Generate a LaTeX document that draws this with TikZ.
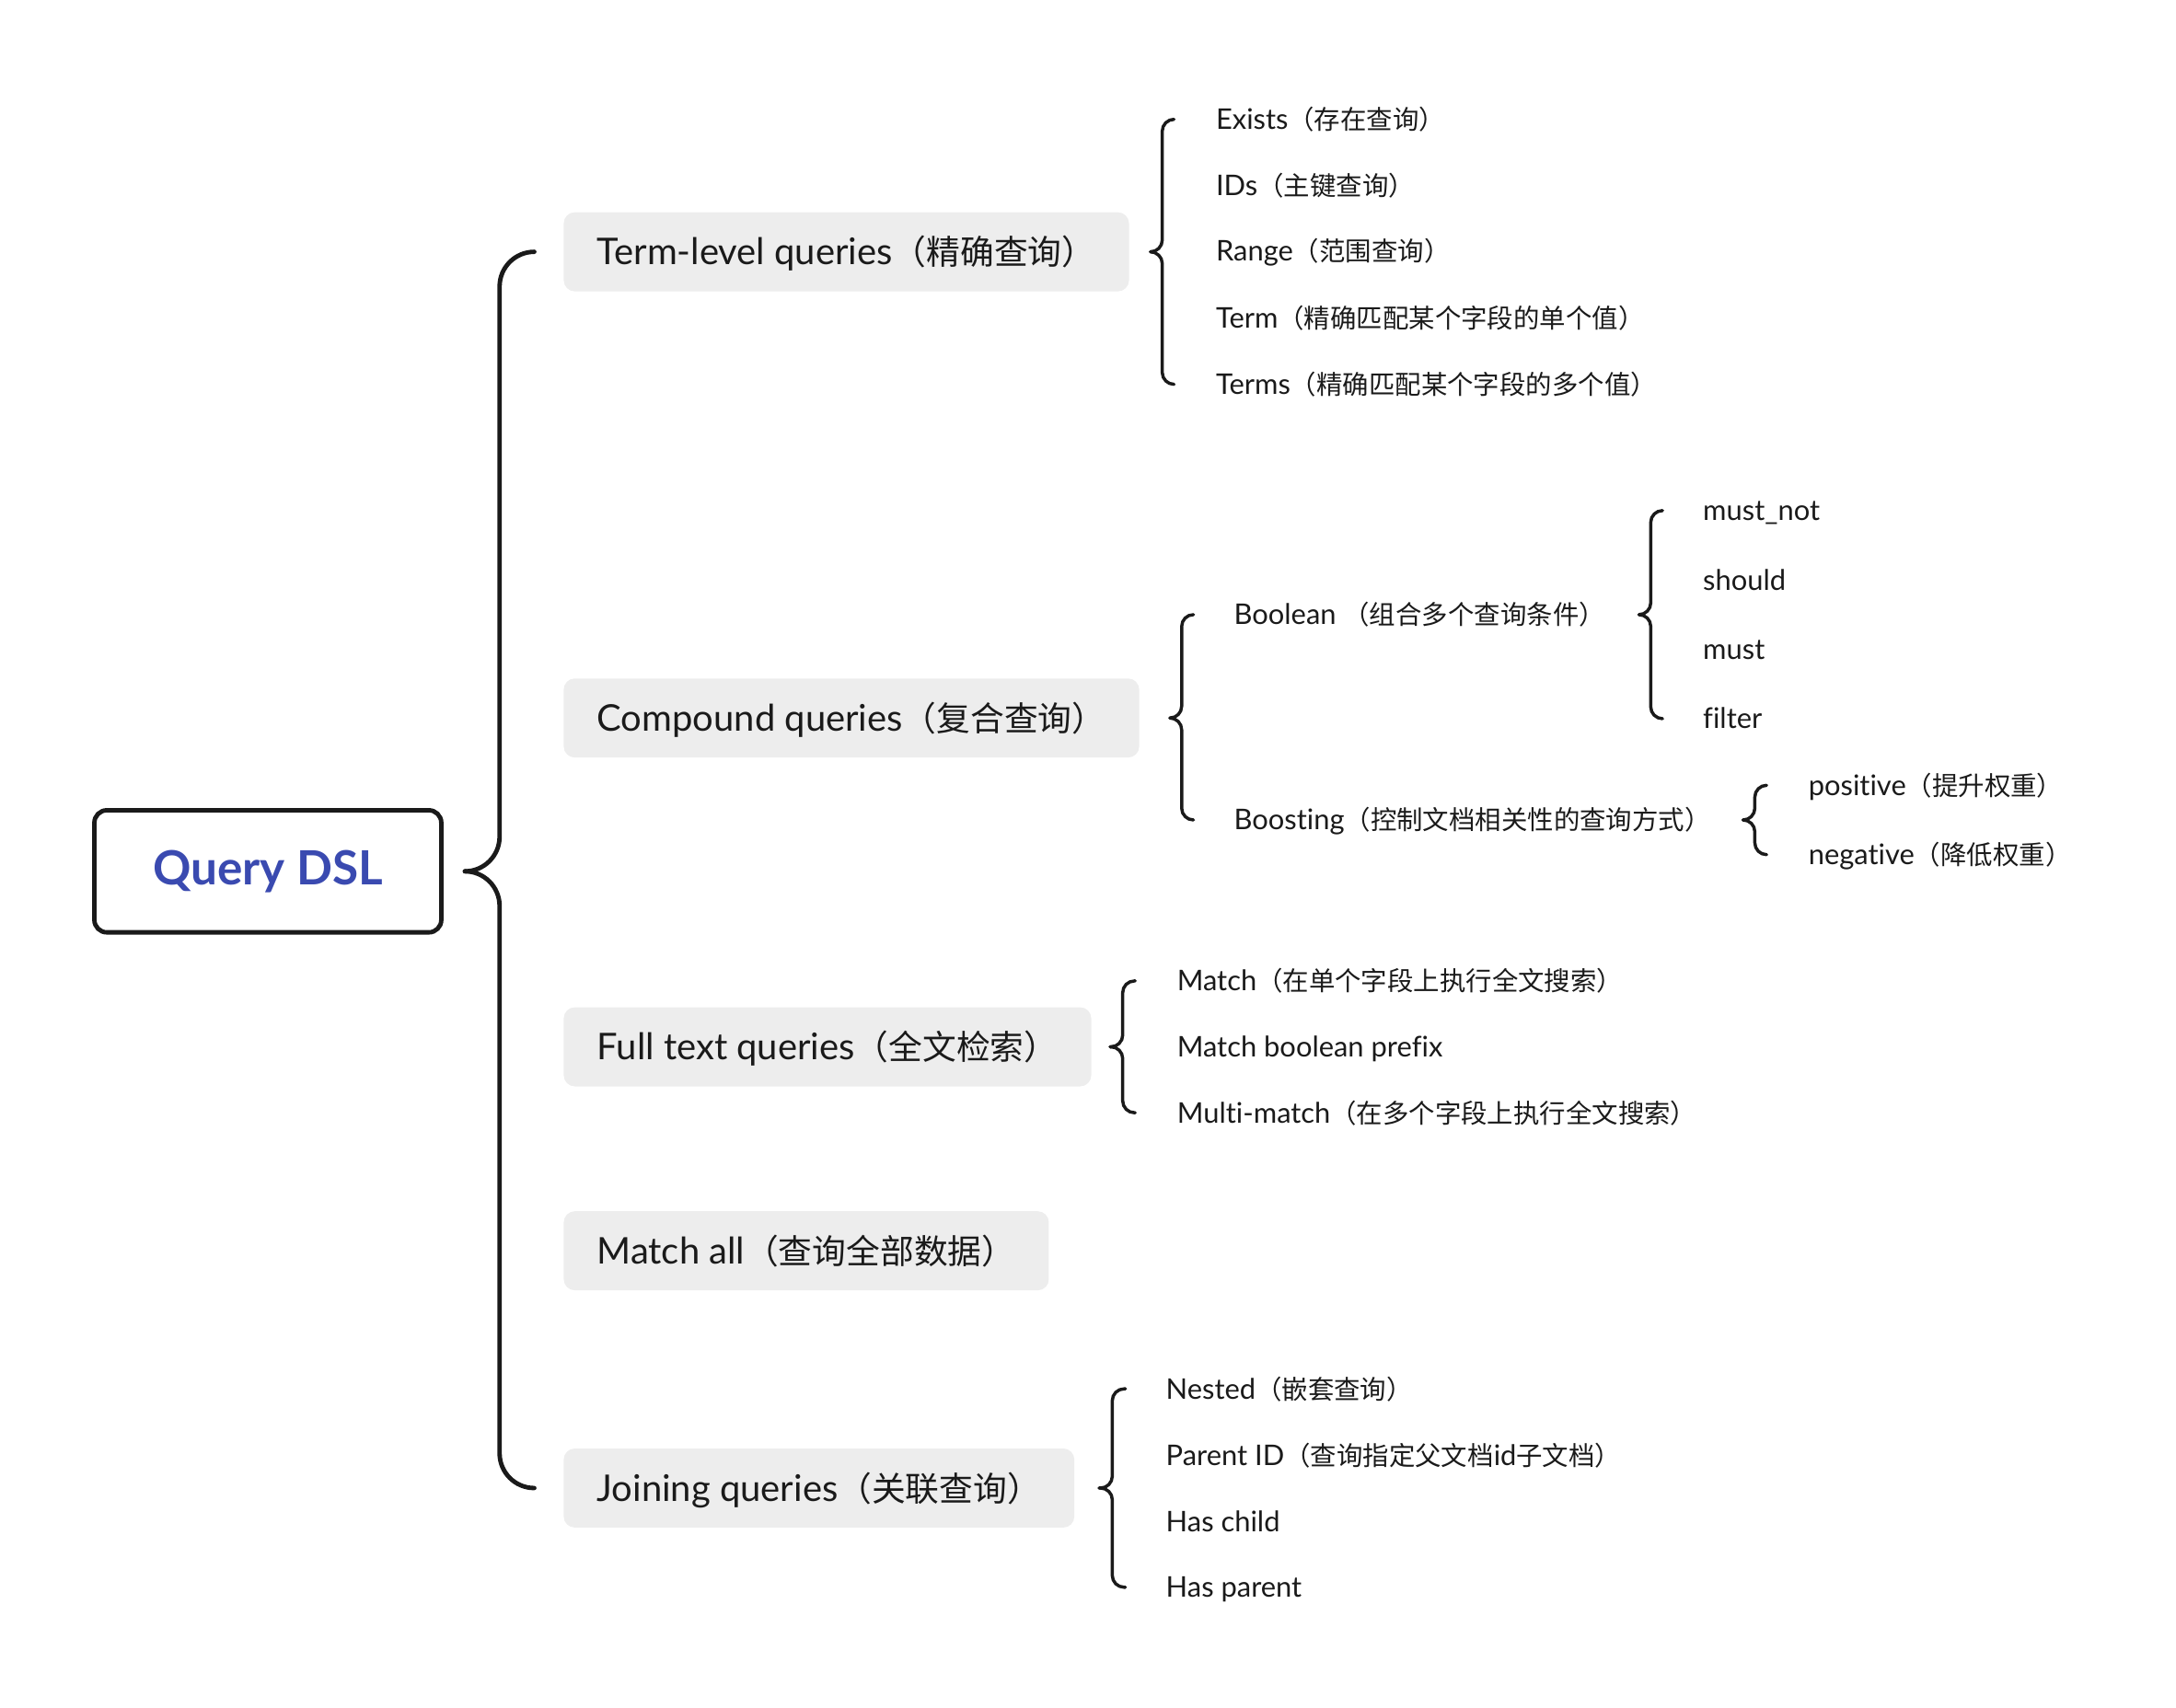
\documentclass[tikz,border=0pt]{standalone}
\usepackage{fontspec}
\setmainfont[Ligatures={TeX,NoCommon}]{Lato}
\newfontfamily\cjk[Scale=0.92]{Noto Sans CJK SC}
\newcommand{\zh}[1]{{\cjk #1}}
\usetikzlibrary{calc}
\definecolor{zi}{RGB}{26,26,26}
\definecolor{lan}{RGB}{58,74,176}
\definecolor{hui}{RGB}{237,237,237}

% brace: style, parent, first child, last child, tip->children, end->children
\newcommand{\kuohao}[6]{%
\coordinate (#2-tip) at ($(#3.west |- #2.center)+(-#5pt,0)$);
\coordinate (#2-mid) at ([xshift={(#5-#6)/2*1pt}]#2-tip);
\coordinate (#3-end) at ([xshift=-#6pt]#3.west);
\coordinate (#4-end) at ([xshift=-#6pt]#4.west);
\draw[#1] (#3-end) -| (#2-mid) -- (#2-tip);
\draw[#1] (#4-end) -| (#2-mid) -- (#2-tip);
}

\begin{document}
\begin{tikzpicture}[%
x=1pt, y=-1pt,
root/.style={draw=zi, line width=3.2pt, rounded corners=9pt, minimum width=250pt, minimum height=88pt, text=lan, font=\fontsize{34}{40}\selectfont\bfseries},
fenlei/.style={anchor=west, fill=hui, rounded corners=8pt, inner xsep=24pt, inner ysep=0pt, minimum height=57pt, text height=18.6pt, text depth=0pt, text=zi, font=\fontsize{26.5}{32}\selectfont},
xiang/.style={anchor=west, inner sep=0pt, text height=14.4pt, text depth=0pt, text=zi, font=\fontsize{20.5}{24}\selectfont},
dakuohao/.style={draw=zi, line width=3.2pt, line cap=round, rounded corners=25pt},
kuo/.style={draw=zi, line width=2.3pt, line cap=round, rounded corners=8.5pt},
]
\useasboundingbox (0,0) rectangle (1568,1231);

\pgfmathsetmacro{\lieA}{406}

\node[root] (dsl) at (193,628) {Query DSL};

\node[fenlei] (term) at (\lieA,181.5) {Term-level queries\zh{（精确查询）}};
\node[fenlei] (comp) at (\lieA,517.5) {Compound queries\zh{（复合查询）}};
\node[fenlei] (full) at (\lieA,754.5) {Full text queries\zh{（全文检索）}};
\node[fenlei] (all)  at (\lieA,901.5) {Match all\zh{（查询全部数据）}};
\node[fenlei] (join) at (\lieA,1072.5) {Joining queries\zh{（关联查询）}};

\kuohao{dakuohao}{dsl}{term}{join}{71}{21}

% term-level
\node[xiang] (exists) at (876,86) {Exists\zh{（存在查询）}};
\node[xiang] (ids)    at (876,133.5) {IDs\zh{（主键查询）}};
\node[xiang] (range)  at (876,181) {Range\zh{（范围查询）}};
\node[xiang] (term1)  at (876,229) {Term\zh{（精确匹配某个字段的单个值）}};
\node[xiang] (terms)  at (876,277) {Terms\zh{（精确匹配某个字段的多个值）}};
\kuohao{kuo}{term}{exists}{terms}{47}{30}

% compound
\node[xiang] (bool)  at (889,443) {Boolean \zh{（组合多个查询条件）}};
\node[xiang] (boost) at (889,591) {Boosting\zh{（控制文档相关性的查询方式）}};
\kuohao{kuo}{comp}{bool}{boost}{46}{29}

\node[xiang] (mustnot) at (1227,368) {must\_not};
\node[xiang] (should)  at (1227,418) {should};
\node[xiang] (must)    at (1227,468) {must};
\node[xiang] (filter)  at (1227,518) {filter};
\kuohao{kuo}{bool}{mustnot}{filter}{46}{29}

\node[xiang] (pos) at (1303,566) {positive\zh{（提升权重）}};
\node[xiang] (neg) at (1303,616) {negative\zh{（降低权重）}};
\kuohao{kuo}{boost}{pos}{neg}{47}{30}

% full text
\node[xiang] (match)  at (848,707) {Match\zh{（在单个字段上执行全文搜索）}};
\node[xiang] (prefix) at (848,754.5) {Match boolean prefix};
\node[xiang] (multi)  at (848,802) {Multi-match\zh{（在多个字段上执行全文搜索）}};
\kuohao{kuo}{full}{match}{multi}{48}{30}

% joining
\node[xiang] (nested) at (840,1001) {Nested\zh{（嵌套查询）}};
\node[xiang] (pid)    at (840,1049) {Parent ID\zh{（查询指定父文档}id\zh{子文档）}};
\node[xiang] (child)  at (840,1097) {Has child};
\node[xiang] (parent) at (840,1144) {Has parent};
\kuohao{kuo}{join}{nested}{parent}{48}{29}

\end{tikzpicture}
\end{document}
